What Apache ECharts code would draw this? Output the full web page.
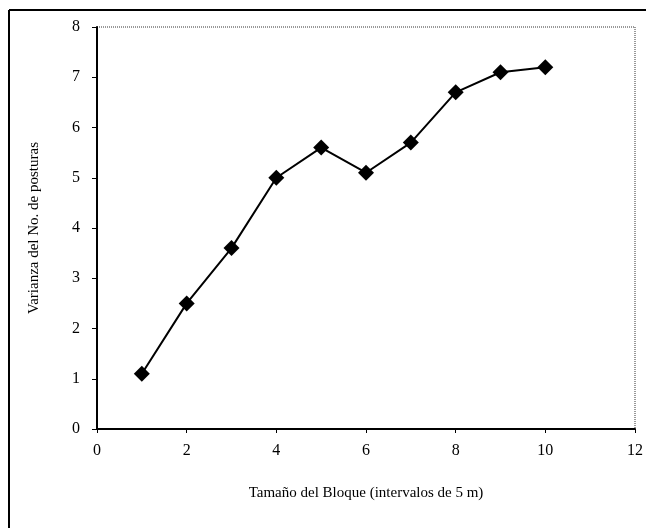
<!DOCTYPE html>
<html><head><meta charset="utf-8">
<script src="https://cdn.jsdelivr.net/npm/echarts@6/dist/echarts.min.js"></script>
<style>html,body{margin:0;padding:0;background:#fff}#c{width:646px;height:528px}</style>
</head><body><div id="c"></div>
<script>
const xValues = [1, 2, 3, 4, 5, 6, 7, 8, 9, 10];
const yValues = [1.1, 2.5, 3.6, 5.0, 5.6, 5.1, 5.7, 6.7, 7.1, 7.2];
const xTitle = 'Tamaño del Bloque (intervalos de 5 m)';
const yTitle = 'Varianza del No. de posturas';

const chart = echarts.init(document.getElementById('c'));
const font = 'Liberation Serif, Times New Roman, serif';
chart.setOption({
  animation: false,
  backgroundColor: '#fff',
  grid: { left: 97, right: 9, top: 27, bottom: 99, show: true, borderColor: '#333', borderWidth: 1, borderType: 'dotted' },
  graphic: [
    { type: 'line', shape: { x1: 9, y1: 10, x2: 646, y2: 10 }, style: { stroke: '#000', lineWidth: 2 } },
    { type: 'line', shape: { x1: 9, y1: 10, x2: 9, y2: 528 }, style: { stroke: '#000', lineWidth: 2 } }
  ],
  xAxis: {
    type: 'value', min: 0, max: 12, interval: 2,
    name: xTitle, nameLocation: 'middle', nameGap: 57,
    nameTextStyle: { fontFamily: font, fontSize: 15, color: '#000' },
    axisLine: { show: true, onZero: false, lineStyle: { color: '#000', width: 2 } },
    axisTick: { show: true, inside: false, length: 4, lineStyle: { color: '#000' } },
    axisLabel: { fontFamily: font, fontSize: 16, color: '#000', margin: 14 },
    splitLine: { show: false }
  },
  yAxis: {
    type: 'value', min: 0, max: 8, interval: 1,
    name: yTitle, nameLocation: 'middle', nameGap: 55, nameRotate: 90,
    nameTextStyle: { fontFamily: font, fontSize: 15, color: '#000' },
    axisLine: { show: true, onZero: false, lineStyle: { color: '#000', width: 2 } },
    axisTick: { show: true, inside: false, length: 5, lineStyle: { color: '#000' } },
    axisLabel: { fontFamily: font, fontSize: 16, color: '#000', margin: 17 },
    splitLine: { show: false }
  },
  series: [{
    type: 'line',
    data: xValues.map((x, i) => [x, yValues[i]]),
    symbol: 'diamond', symbolSize: 16,
    itemStyle: { color: '#000' },
    lineStyle: { color: '#000', width: 2 }
  }]
});
</script></body></html>
